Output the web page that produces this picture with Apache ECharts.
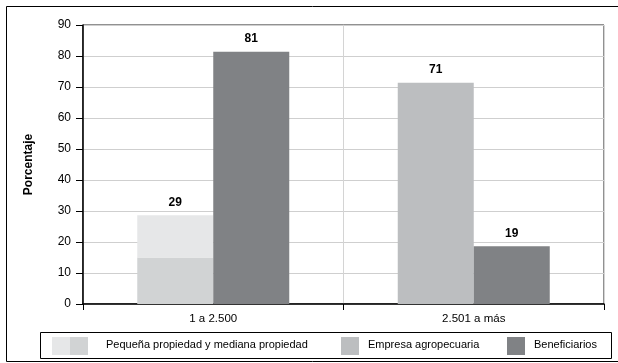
<!DOCTYPE html>
<html><head><meta charset="utf-8">
<script src="https://cdn.jsdelivr.net/npm/echarts@6/dist/echarts.min.js"></script>
<style>html,body{margin:0;padding:0;background:#fff}#c{width:618px;height:363px}</style>
</head><body><div id="c"></div>
<script>
var categories = ['1 a 2.500', '2.501 a más'];
var pequenaBase = [15, null];
var pequenaTop = [13.6, null];
var pequenaLabel = ['29', ''];
var empresa = [null, 71.4];
var empresaLabel = ['', '71'];
var beneficiarios = [81.4, 18.6];
var beneficiariosLabel = ['81', '19'];
var yTicks = [0, 10, 20, 30, 40, 50, 60, 70, 80, 90];
var legendNames = ['Pequeña propiedad y mediana propiedad', 'Empresa agropecuaria', 'Beneficiarios'];

var FONT = "'Liberation Sans', Arial, sans-serif";
var C_BASE = '#d1d3d4', C_TOP = '#e6e7e8', C_EMP = '#bcbec0', C_BEN = '#808285';

function lbl(arr) {
  return { show: true, position: 'top', distance: 7, color: '#000', fontFamily: FONT, fontSize: 12, fontWeight: 'bold',
    formatter: function (p) { return arr[p.dataIndex]; } };
}

var chart = echarts.init(document.getElementById('c'), null, { renderer: 'canvas' });
chart.setOption({
  animation: false,
  backgroundColor: '#fff',
  textStyle: { fontFamily: FONT },
  grid: { left: 83, right: 14, top: 25, bottom: 59, show: true, borderColor: '#222', borderWidth: 1, containLabel: false },
  xAxis: {
    type: 'category', data: categories,
    axisLine: { lineStyle: { color: '#000', width: 1.5 } },
    axisTick: { show: true, length: 6, lineStyle: { color: '#000' } },
    axisLabel: { color: '#000', fontFamily: FONT, fontSize: 11.5, margin: 9 },
    splitLine: { show: true, lineStyle: { color: '#d4d4d4', width: 1 } }
  },
  yAxis: {
    type: 'value', min: yTicks[0], max: yTicks[yTicks.length - 1], interval: 10,
    name: 'Porcentaje', nameLocation: 'middle', nameGap: 48, nameRotate: 90,
    nameTextStyle: { color: '#000', fontFamily: FONT, fontSize: 12, fontWeight: 'bold' },
    axisLine: { show: true, lineStyle: { color: '#000', width: 1.5 } },
    axisTick: { show: true, inside: false, length: 7, lineStyle: { color: '#000' } },
    axisLabel: { color: '#000', fontFamily: FONT, fontSize: 12, margin: 12 },
    splitLine: { show: true, lineStyle: { color: '#cfcfcf', width: 1 } }
  },
  series: [
    { name: 'pb', type: 'bar', stack: 'a', data: pequenaBase, barWidth: 76, barGap: '0%', itemStyle: { color: C_BASE } },
    { name: legendNames[0], type: 'bar', stack: 'a', data: pequenaTop, barWidth: 76, itemStyle: { color: C_TOP }, label: lbl(pequenaLabel) },
    { name: legendNames[1], type: 'bar', stack: 'a', data: empresa, barWidth: 76, itemStyle: { color: C_EMP }, label: lbl(empresaLabel) },
    { name: legendNames[2], type: 'bar', stack: 'b', data: beneficiarios, barWidth: 76, barGap: '0%', itemStyle: { color: C_BEN }, label: lbl(beneficiariosLabel) }
  ],
  graphic: [
    { type: 'rect', shape: { x: 6.5, y: 6.5, width: 612, height: 355 }, style: { fill: null, stroke: '#000', lineWidth: 1 }, silent: true, z: 0 },
    { type: 'rect', shape: { x: 40.5, y: 332.5, width: 571, height: 26 }, style: { fill: null, stroke: '#000', lineWidth: 1 }, silent: true },
    { type: 'rect', shape: { x: 52, y: 337, width: 18, height: 18 }, style: { fill: C_TOP } },
    { type: 'rect', shape: { x: 70, y: 337, width: 18, height: 18 }, style: { fill: C_BASE } },
    { type: 'text', left: 106, top: 339, style: { text: legendNames[0], fill: '#000', font: '11px ' + FONT } },
    { type: 'rect', shape: { x: 341, y: 337, width: 18, height: 18 }, style: { fill: C_EMP } },
    { type: 'text', left: 368, top: 339, style: { text: legendNames[1], fill: '#000', font: '11px ' + FONT } },
    { type: 'rect', shape: { x: 507, y: 337, width: 18, height: 18 }, style: { fill: C_BEN } },
    { type: 'text', left: 534, top: 339, style: { text: legendNames[2], fill: '#000', font: '11px ' + FONT } }
  ]
});
</script></body></html>
